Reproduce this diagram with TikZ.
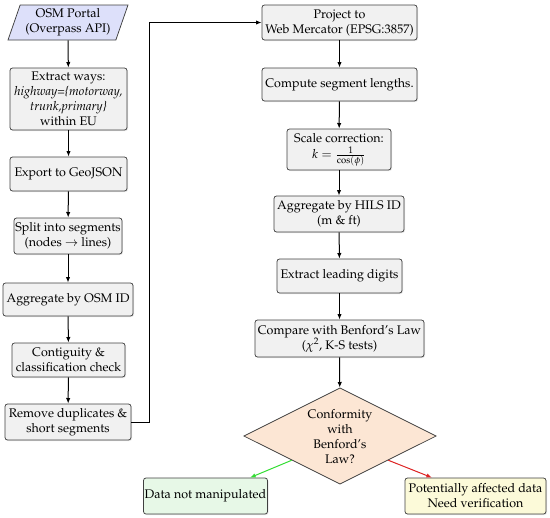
\documentclass[tikz,border=0pt]{standalone}
\usepackage[T1]{fontenc}
\usepackage{mathpazo}
\usetikzlibrary{shapes.geometric,arrows.meta,shadows}
\definecolor{boxfill}{HTML}{F1F1F1}
\definecolor{osmfill}{HTML}{DDE0FA}
\definecolor{diafill}{HTML}{FCE6D4}
\definecolor{okfill}{HTML}{E7F8E7}
\definecolor{badfill}{HTML}{FCFAD9}
\definecolor{okline}{HTML}{33DD33}
\definecolor{badline}{HTML}{DD2222}
\tikzset{
  px/.style={x=0.8pt,y=-0.8pt},
  box/.style={draw=black!75, line width=0.6pt, rounded corners=2pt, fill=boxfill,
    align=center, inner sep=1pt, font=\normalsize,
    drop shadow={opacity=0.2, shadow xshift=0.8pt, shadow yshift=-0.8pt}},
  arr/.style={-{Latex[length=4.5pt,width=3.5pt]}, line width=0.8pt, black},
}
\begin{document}
\begin{tikzpicture}[px]
\useasboundingbox (0,0) rectangle (550,517);
% left column
\node[trapezium, trapezium left angle=68, trapezium right angle=112, trapezium stretches body,
  draw=black!75, line width=0.6pt, fill=osmfill, align=center, inner sep=1pt,
  minimum width=96pt, minimum height=28pt] (osm) at (68,22.5) {OSM Portal\\(Overpass API)};
\node[box, minimum width=93.6pt, minimum height=49.6pt] (ext) at (68.5,99)
  {Extract ways:\\\textit{highway=\{motorway,}\\\textit{trunk,primary\}}\\within EU};
\node[box, minimum width=93.6pt, minimum height=27.2pt] (exp) at (68.5,174) {Export to GeoJSON};
\node[box, minimum width=81.6pt, minimum height=28.8pt] (split) at (68,236)
  {Split into segments\\(nodes $\rightarrow$ lines)};
\node[box, minimum width=104pt, minimum height=26.4pt] (agg) at (68,299.5) {Aggregate by OSM ID};
\node[box, minimum width=90.4pt, minimum height=27.2pt] (cont) at (68.5,360)
  {Contiguity \&\\classification check};
\node[box, minimum width=100.8pt, minimum height=28.8pt] (rem) at (68,422)
  {Remove duplicates \&\\short segments};
% right column
\node[box, minimum width=124pt, minimum height=28pt] (proj) at (339.5,22.5)
  {Project to\\Web Mercator (EPSG:3857)};
\node[box, minimum width=124pt, minimum height=26.4pt] (comp) at (339.5,84.5) {Compute segment lengths.};
\node[box, minimum width=83.2pt, minimum height=32.8pt] (scale) at (339,149.5)
  {Scale correction:\\[1pt]$k=\frac{1}{\cos(\phi)}$};
\node[box, minimum width=104pt, minimum height=28.8pt] (hils) at (339,214)
  {Aggregate by HILS ID\\(m \& ft)};
\node[box, minimum width=100pt, minimum height=27.2pt] (lead) at (339.5,276) {Extract leading digits};
\node[box, minimum width=135.2pt, minimum height=29.6pt] (cmp) at (339.5,338.5)
  {Compare with Benford's Law\\($\chi^2$, K-S tests)};
\node[diamond, aspect=2, draw=black!75, line width=0.6pt, fill=diafill, align=center, inner sep=0pt,
  minimum width=154pt, minimum height=77pt] (dia) at (340,436)
  {Conformity\\with\\Benford's\\Law?};
\node[box, fill=okfill, minimum width=98.4pt, minimum height=28.8pt] (ok) at (205.5,496) {Data not manipulated};
\node[box, fill=badfill, minimum width=112.8pt, minimum height=28.8pt] (bad) at (475.5,496)
  {Potentially affected data\\Need verification};
% connectors
\draw[arr] (osm) -- (ext);
\draw[arr] (ext) -- (exp);
\draw[arr] (exp) -- (split);
\draw[arr] (split) -- (agg);
\draw[arr] (agg) -- (cont);
\draw[arr] (cont) -- (rem);
\draw[arr] (rem.east) -- ([xshift=14.4pt]rem.east) |- (proj.west);
\draw[arr] (proj) -- (comp);
\draw[arr] (comp) -- (scale);
\draw[arr] (scale) -- (hils);
\draw[arr] (hils) -- (lead);
\draw[arr] (lead) -- (cmp);
\draw[arr] (cmp) -- (dia);
\draw[arr, okline] (dia.south west) -- ([xshift=35.6pt]ok.north);
\draw[arr, badline] (dia.south east) -- ([xshift=-34.8pt]bad.north);
\end{tikzpicture}
\end{document}
